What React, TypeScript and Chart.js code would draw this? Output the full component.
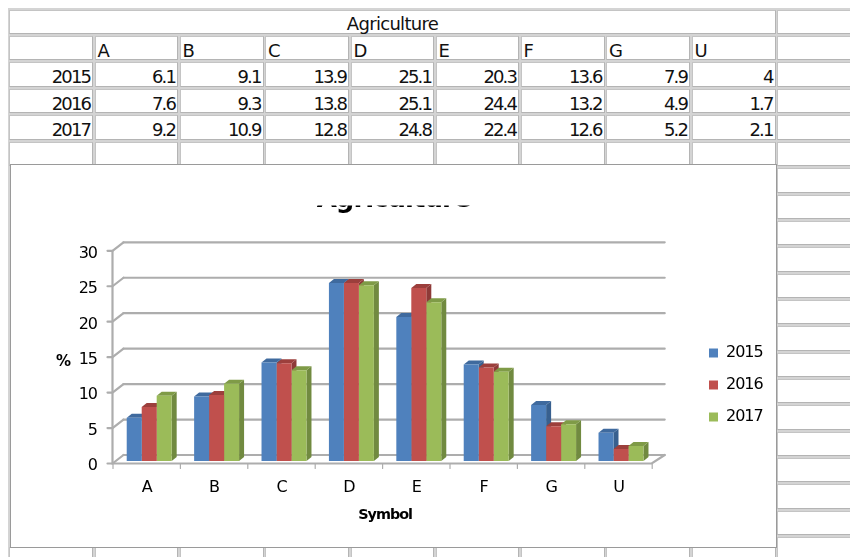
import React, { useEffect, useRef } from "react";
import { Chart, registerables } from "chart.js";

Chart.register(...registerables);

const sheetTitle = "Agriculture";
const categories = ["A", "B", "C", "D", "E", "F", "G", "U"];
const years = ["2015", "2016", "2017"];
const values2015 = [6.1, 9.1, 13.9, 25.1, 20.3, 13.6, 7.9, 4];
const values2016 = [7.6, 9.3, 13.8, 25.1, 24.4, 13.2, 4.9, 1.7];
const values2017 = [9.2, 10.9, 12.8, 24.8, 22.4, 12.6, 5.2, 2.1];
const seriesValues = [values2015, values2016, values2017];
const yTitle = "%";
const xTitle = "Symbol";

const frontColors = ["#4F81BD", "#C0504D", "#9BBB59"];
const sideColors = ["#38608F", "#8E3A38", "#718A40"];
const topColors = ["#3F6A9E", "#9C3F3C", "#7F9B47"];

const colEdges = [9, 94.5, 179.5, 265, 350.5, 435.5, 520.5, 606, 691.5, 777, 870];
const rowTops = [10, 36, 62, 89, 115, 142, 168, 194.5, 221, 247, 273.5, 299.5, 326, 352.5, 378.5, 405, 431.5, 458, 484, 510.5, 537, 563];

const DX = 5;
const DY = -4;

const depthPlugin = {
  id: "depth",
  beforeUpdate(chart: any) {
    chart.ctx.letterSpacing = "-1px";
  },
  afterLayout(chart: any) {
    const l = chart.legend;
    l.left = 683;
    l.top = 165;
    l.right = 767;
    l.bottom = 300;
    l.width = 84;
    l.height = 135;
    const t = chart.titleBlock;
    t.left = 0;
    t.right = 767;
    t.width = 767;
  },
  beforeDraw(chart: any) {
    chart.ctx.letterSpacing = "-1px";
  },
  beforeDatasetsDraw(chart: any) {
    const { ctx, chartArea, scales } = chart;
    const y = scales.y;
    const x = scales.x;
    const frontL = chartArea.left - 3;
    const frontR = chartArea.right - 3;
    const backL = chartArea.left + 8;
    const backR = chartArea.right + 10;
    const front = 2.5;
    const back = -6;
    ctx.save();
    ctx.lineCap = "round";
    ctx.strokeStyle = "#ADADAD";
    ctx.lineWidth = 2.2;
    y.ticks.forEach((t: any) => {
      const p = y.getPixelForValue(t.value);
      ctx.beginPath();
      ctx.moveTo(backL, p + back);
      ctx.lineTo(backR, p + back);
      ctx.stroke();
      ctx.beginPath();
      ctx.moveTo(frontL - 5, p + front);
      ctx.lineTo(frontL, p + front);
      ctx.lineTo(backL, p + back);
      ctx.stroke();
    });
    const p0 = y.getPixelForValue(0);
    const pMax = y.getPixelForValue(30);
    ctx.beginPath();
    ctx.moveTo(frontL, pMax + front);
    ctx.lineTo(frontL, p0 + front);
    ctx.lineTo(frontR, p0 + front);
    ctx.lineTo(backR, p0 + back);
    ctx.stroke();
    const w = x.getPixelForValue(1) - x.getPixelForValue(0);
    ctx.lineWidth = 1.2;
    categories.forEach((_, i) => {
      const px = x.getPixelForValue(i) - w / 2 - 2.5;
      ctx.beginPath();
      ctx.moveTo(px, p0 + front);
      ctx.lineTo(px, p0 + front + 5);
      ctx.stroke();
    });
    const endX = x.getPixelForValue(categories.length - 1) + w / 2 - 2.5;
    ctx.beginPath();
    ctx.moveTo(endX, p0 + front);
    ctx.lineTo(endX, p0 + front + 5);
    ctx.stroke();

    seriesValues.forEach((_, d) => {
      chart.getDatasetMeta(d).data.forEach((bar: any) => {
        const l = bar.x - bar.width / 2;
        const r = bar.x + bar.width / 2;
        ctx.fillStyle = sideColors[d];
        ctx.beginPath();
        ctx.moveTo(r, bar.y);
        ctx.lineTo(r + DX, bar.y + DY);
        ctx.lineTo(r + DX, bar.base + DY);
        ctx.lineTo(r, bar.base);
        ctx.closePath();
        ctx.fill();
        ctx.fillStyle = topColors[d];
        ctx.beginPath();
        ctx.moveTo(l, bar.y);
        ctx.lineTo(l + DX, bar.y + DY);
        ctx.lineTo(r + DX, bar.y + DY);
        ctx.lineTo(r, bar.y);
        ctx.closePath();
        ctx.fill();
      });
    });
    ctx.restore();
  },
  afterDraw(chart: any) {
    const { ctx } = chart;
    ctx.save();
    ctx.fillStyle = "#ffffff";
    ctx.fillRect(200, 5, 400, 36.5);
    ctx.fillStyle = "#000000";
    ctx.font = "bold 15px 'DejaVu Sans'";
    ctx.textAlign = "center";
    ctx.textBaseline = "middle";
    ctx.fillText(yTitle, 53, 198);
    ctx.restore();
  },
};

const cellText: React.CSSProperties = {
  fontFamily: "'DejaVu Sans', sans-serif",
  fontSize: 18,
  color: "#111",
  whiteSpace: "nowrap",
};

function Cell(props: { c0: number; c1: number; r: number; text?: string; align?: string; spacing?: number }) {
  const { c0, c1, r, text, align, spacing } = props;
  const left = colEdges[c0];
  const right = colEdges[c1] - 1.5;
  const top = rowTops[r];
  const h = rowTops[r + 1] - top - 2;
  return (
    <div
      style={{
        ...cellText,
        position: "absolute",
        boxSizing: "border-box",
        left,
        top,
        width: right - left,
        height: h,
        background: "#fff",
        borderBottom: "1px solid #b4b4b4",
        borderTop: "1px solid #c4c4c4",
        borderLeft: "1px solid #c4c4c4",
        borderRight: "1px solid #b4b4b4",
        lineHeight: `${h + 3}px`,
        textAlign: (align as any) || "left",
        letterSpacing: spacing ?? -0.7,
        paddingLeft: align === "right" ? 0 : 2,
        paddingRight: align === "right" ? 2 : 0,
      }}
    >
      {text}
    </div>
  );
}

export default function App() {
  const ref = useRef<HTMLCanvasElement>(null);
  useEffect(() => {
    document.body.style.margin = "0";
    const chart = new Chart(ref.current as HTMLCanvasElement, {
      type: "bar",
      data: {
        labels: categories,
        datasets: years.map((y, i) => ({
          label: y,
          data: seriesValues[i],
          backgroundColor: frontColors[i],
          borderWidth: 0,
          barPercentage: 1,
          categoryPercentage: 0.667,
        })),
      },
      options: {
        animation: false,
        responsive: false,
        devicePixelRatio: 1,
        layout: { padding: { left: 0, top: 0, right: 122.3, bottom: 0 } },
        font: { family: "'DejaVu Sans'" },
        scales: {
          x: {
            grid: { display: false, drawTicks: false },
            border: { display: false },
            afterFit: (s: any) => {
              s.height = 87;
            },
            ticks: {
              color: "#000",
              padding: 17.5,
              labelOffset: -2.5,
              maxRotation: 0,
              font: { family: "'DejaVu Sans'", size: 16 },
            },
            title: {
              display: true,
              text: xTitle,
              color: "#000",
              font: { family: "'DejaVu Sans'", size: 14.4, weight: "bold" },
              padding: { top: 0, bottom: 24 },
            },
          },
          y: {
            min: 0,
            max: 30,
            grid: { display: false, drawTicks: false },
            border: { display: false },
            afterFit: (s: any) => {
              s.width = 105.5;
            },
            ticks: {
              stepSize: 5,
              color: "#000",
              padding: 18.5,
              labelOffset: 5.2,
              font: { family: "'DejaVu Sans'", size: 16 },
            },
          },
        },
        plugins: {
          tooltip: { enabled: false },
          title: {
            display: true,
            text: sheetTitle,
            color: "#000",
            font: { family: "'DejaVu Sans'", size: 26, weight: "bold" },
            padding: { top: 21, bottom: 32.1 },
          },
          legend: {
            position: "chartArea" as any,
            align: "start",
            labels: {
              boxWidth: 9,
              boxHeight: 9,
              padding: 16,
              color: "#000",
              font: { family: "'DejaVu Sans'", size: 16 },
            },
          },
        },
      } as any,
      plugins: [depthPlugin],
    });
    return () => chart.destroy();
  }, []);

  const cells: React.ReactNode[] = [];
  cells.push(<Cell key="t" c0={0} c1={9} r={0} />);
  cells.push(<Cell key="tx" c0={9} c1={10} r={0} />);
  cells.push(<Cell key="h0" c0={0} c1={1} r={1} />);
  categories.forEach((c, i) => cells.push(<Cell key={"h" + c} c0={i + 1} c1={i + 2} r={1} text={c} />));
  cells.push(<Cell key="hx" c0={9} c1={10} r={1} />);
  years.forEach((y, r) => {
    cells.push(<Cell key={"y" + y} c0={0} c1={1} r={r + 2} text={y} align="right" spacing={-1.9} />);
    seriesValues[r].forEach((v, i) =>
      cells.push(<Cell key={y + i} c0={i + 1} c1={i + 2} r={r + 2} text={String(v)} align="right" spacing={-1.9} />)
    );
    cells.push(<Cell key={"x" + y} c0={9} c1={10} r={r + 2} />);
  });
  for (let c = 0; c < 10; c++) cells.push(<Cell key={"e" + c} c0={c} c1={c + 1} r={5} />);
  for (let r = 6; r < rowTops.length - 1; r++) cells.push(<Cell key={"rx" + r} c0={9} c1={10} r={r} />);
  for (let c = 0; c < 9; c++) {
    cells.push(
      <div
        key={"b" + c}
        style={{
          position: "absolute",
          boxSizing: "border-box",
          left: colEdges[c],
          top: 547,
          width: colEdges[c + 1] - colEdges[c] - 1.5,
          height: 30,
          background: "#fff",
          borderLeft: "1px solid #c4c4c4",
          borderRight: "1px solid #b4b4b4",
          borderTop: "1px solid #c4c4c4",
        }}
      />
    );
  }

  return (
    <div
      style={{
        position: "fixed",
        left: 0,
        top: 0,
        width: 850,
        height: 557,
        overflow: "hidden",
        background: "#fff",
        filter: "blur(0.5px)",
      }}
    >
      <div style={{ position: "absolute", left: 8, top: 8, width: 842, height: 549, background: "#d4d4d4" }} />
      {cells}
      <div
        style={{
          ...cellText,
          position: "absolute",
          left: 9,
          width: 767,
          top: 10,
          height: 24,
          lineHeight: "27px",
          textAlign: "center",
          letterSpacing: -0.7,
        }}
      >
        {sheetTitle}
      </div>
      <div
        style={{
          position: "absolute",
          left: 10,
          top: 164,
          width: 767,
          height: 384,
          background: "#fff",
          boxShadow: "inset 0 0 0 1px #9a9a9a",
        }}
      >
        <canvas ref={ref} width={767} height={384} style={{ display: "block", width: 767, height: 384 }} />
      </div>
    </div>
  );
}
